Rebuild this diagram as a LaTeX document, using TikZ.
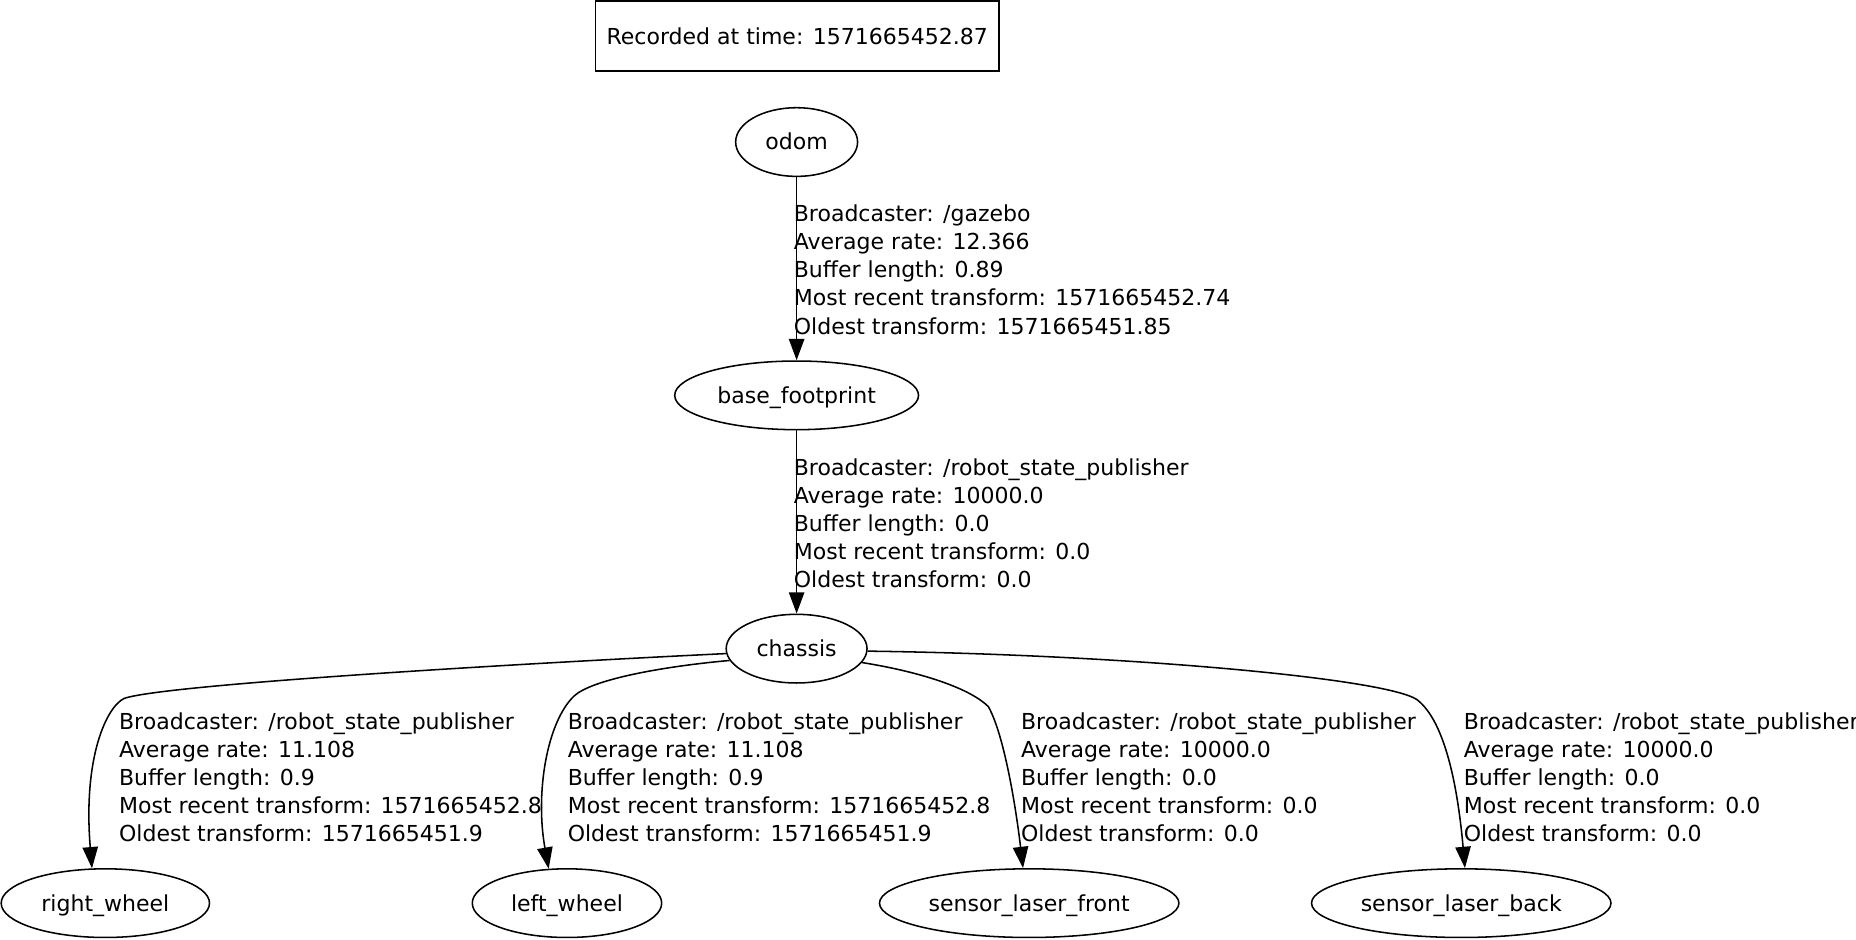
\documentclass[tikz,border=0pt]{standalone}
\usepackage{fontspec}
\setmainfont{DejaVu Sans}
\usetikzlibrary{arrows.meta,shapes.geometric}
\begin{document}
\begin{tikzpicture}[x=1pt,y=-1pt,line width=1.3pt,
  every node/.style={font=\fontsize{18.6}{23.7}\selectfont},
  frame/.style={ellipse, draw, inner sep=0pt, minimum height=58pt, text height=17pt, text depth=3.6pt},
  stamp/.style={rectangle, draw, inner sep=0pt, text height=17pt, text depth=3.6pt},
  lbl/.style={anchor=north west, inner sep=0pt, align=left},
  conn/.style={-{Triangle[length=18pt,width=13pt]}}]
\useasboundingbox (0,0) rectangle (1568,794);

\node[stamp, minimum width=341pt, minimum height=59pt] (rec) at (673.5,30.5) {Recorded at time: 1571665452.87};

\node[frame, minimum width=103pt] (odom) at (673,120) {\makebox[0pt]{odom}};
\node[frame, minimum width=206pt] (bf) at (673,334) {\makebox[0pt]{base\_footprint}};
\node[frame, minimum width=119pt] (ch) at (673,548) {\makebox[0pt]{chassis}};
\node[frame, minimum width=176pt] (rw) at (89,763) {\makebox[0pt]{right\_wheel}};
\node[frame, minimum width=160pt] (lw) at (479,763) {\makebox[0pt]{left\_wheel}};
\node[frame, minimum width=253pt] (slf) at (869.5,763) {\makebox[0pt]{sensor\_laser\_front}};
\node[frame, minimum width=253pt] (slb) at (1234.5,763) {\makebox[0pt]{sensor\_laser\_back}};

\draw[conn] (odom.south) -- (bf.north);
\draw[conn] (bf.south) -- (ch.north);

\draw[conn] (ch.184) .. controls (450,560) and (140,578) .. (105,590)
  .. controls (90,597) and (70,640) .. (rw.111);
\draw[conn] (ch.190) .. controls (560,563) and (500,574) .. (485,588)
  .. controls (462,610) and (452,670) .. (lw.118);
\draw[conn] (ch.-12) .. controls (780,568) and (820,582) .. (835,597)
  .. controls (848,620) and (858,680) .. (slf.100);
\draw[conn] (ch.-2) .. controls (950,553) and (1170,573) .. (1197,591)
  .. controls (1222,610) and (1232,670) .. (slb.84);

\node[lbl] (l1) at (670,172.6) {Broadcaster: /gazebo\\Average rate: 12.366\\Buffer length: 0.89\\Most recent transform: 1571665452.74\\Oldest transform: 1571665451.85};
\node[lbl] (l2) at (670,386.6) {Broadcaster: /robot\_state\_publisher\\Average rate: 10000.0\\Buffer length: 0.0\\Most recent transform: 0.0\\Oldest transform: 0.0};
\node[lbl] (l3) at (100,601.6) {Broadcaster: /robot\_state\_publisher\\Average rate: 11.108\\Buffer length: 0.9\\Most recent transform: 1571665452.8\\Oldest transform: 1571665451.9};
\node[lbl] (l4) at (479,601.6) {Broadcaster: /robot\_state\_publisher\\Average rate: 11.108\\Buffer length: 0.9\\Most recent transform: 1571665452.8\\Oldest transform: 1571665451.9};
\node[lbl] (l5) at (862,601.6) {Broadcaster: /robot\_state\_publisher\\Average rate: 10000.0\\Buffer length: 0.0\\Most recent transform: 0.0\\Oldest transform: 0.0};
\node[lbl] (l6) at (1236,601.6) {Broadcaster: /robot\_state\_publisher\\Average rate: 10000.0\\Buffer length: 0.0\\Most recent transform: 0.0\\Oldest transform: 0.0};
\end{tikzpicture}
\end{document}
